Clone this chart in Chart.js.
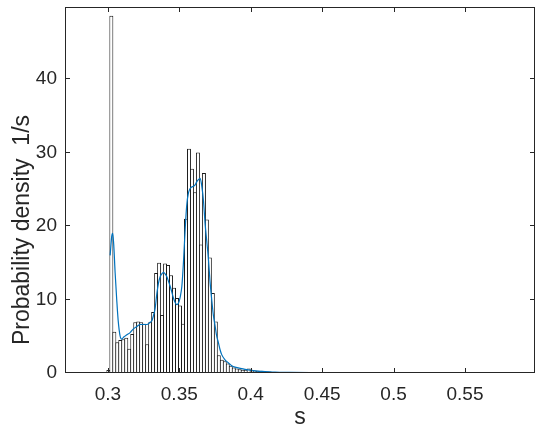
<!DOCTYPE html>
<html>
<head>
<meta charset="utf-8">
<script src="https://cdn.jsdelivr.net/npm/chart.js@4/dist/chart.umd.min.js"></script>
<style>
  html, body { margin: 0; padding: 0; background: #fff; }
  #wrap { width: 550px; height: 434px; }
</style>
</head>
<body>
<div id="wrap"><canvas id="chart" width="550" height="434"></canvas></div>
<script>
// histogram bins (pdf normalised)
const binStart = 0.2993;
const binWidth = 0.00209;
const density = [
  0.4, 48.6, 5.6, 4.2, 4.5, 4.6, 4.8, 3.3, 5.3, 6.9,
  7.0, 6.9, 6.7, 3.9, 6.9, 8.3, 13.6, 15.0, 7.9, 14.9,
  14.7, 13.3, 11.6, 10.2, 9.2, 6.7, 21.0, 30.5, 27.8, 24.6,
  30.0, 17.5, 27.2, 20.9, 15.7, 10.9, 7.0, 2.4, 1.8, 1.6,
  1.3, 1.0, 0.75, 0.6, 0.5, 0.45, 0.45, 0.6, 0.4, 0.35,
  0.3, 0.3, 0.25, 0.2, 0.2, 0.15, 0.15, 0.1, 0.1, 0.08,
  0.05, 0.05, 0, 0.05, 0, 0.04, 0, 0, 0.04, 0,
  0, 0, 0.03, 0, 0, 0, 0, 0.03, 0, 0, 0.03
];

// kernel density curve
const kdeX = [
  0.3016, 0.3027, 0.3034, 0.3041, 0.3051, 0.3062, 0.3072, 0.3086, 0.3097, 0.3111,
  0.3133, 0.3156, 0.3179, 0.3202, 0.3226, 0.3249, 0.3273, 0.3296, 0.3308, 0.3319,
  0.3331, 0.3343, 0.3354, 0.3366, 0.3378, 0.3389, 0.3401, 0.3413, 0.3424, 0.3436,
  0.3448, 0.3459, 0.3471, 0.3483, 0.3494, 0.3506, 0.3518, 0.3529, 0.3541, 0.3552,
  0.3564, 0.3576, 0.3587, 0.3599, 0.3611, 0.3622, 0.3634, 0.3646, 0.3657, 0.3669,
  0.3680, 0.3692, 0.3704, 0.3715, 0.3727, 0.3739, 0.3750, 0.3762, 0.3773, 0.3785,
  0.3797, 0.3820, 0.3843, 0.3867, 0.3890, 0.3913, 0.3960, 0.4007, 0.4051, 0.4100,
  0.4170, 0.4275, 0.4415, 0.4555, 0.4764
];
const kdeY = [
  16.0, 18.6, 19.0, 17.5, 13.6, 10.0, 7.2, 5.0, 4.6, 4.9,
  5.2, 5.5, 6.0, 6.3, 6.6, 6.6, 6.6, 6.9, 7.1, 7.8,
  8.8, 10.8, 12.2, 13.1, 13.5, 13.7, 13.5, 13.1, 12.5, 11.8,
  11.0, 10.2, 9.6, 9.3, 9.5, 10.3, 11.8, 15.0, 19.5, 22.8,
  24.5, 25.1, 25.3, 25.4, 25.6, 26.0, 26.3, 26.5, 25.5, 23.5,
  20.5, 18.0, 15.5, 12.5, 10.0, 7.8, 6.5, 5.0, 4.2, 3.2,
  2.5, 1.8, 1.4, 1.0, 0.8, 0.7, 0.5, 0.35, 0.25, 0.2,
  0.12, 0.08, 0.05, 0.04, 0.02
];

const xTicks = [0.3, 0.35, 0.4, 0.45, 0.5, 0.55];
const yTicks = [0, 10, 20, 30, 40];
const xLabel = 's';
const yLabel = 'Probability density  1/s';

const axisColor = '#262626';
const fontFamily = "'Liberation Sans', Arial, sans-serif";

const bars = density.map((v, i) => ({ x: binStart + (i + 0.5) * binWidth, y: v }));
const kde = kdeX.map((x, i) => ({ x: x, y: kdeY[i] }));

// box around the axes with inward ticks on all four sides, like matlab
const axesBox = {
  id: 'axesBox',
  afterDatasetsDraw(chart) {
    const { ctx, chartArea: a, scales: { x, y } } = chart;
    const len = 5;
    ctx.save();
    ctx.strokeStyle = axisColor;
    ctx.lineWidth = 1;
    ctx.strokeRect(a.left + 0.5, a.top + 0.5, a.width - 1, a.height - 1);
    ctx.beginPath();
    xTicks.forEach(v => {
      const px = Math.round(x.getPixelForValue(v)) + 0.5;
      ctx.moveTo(px, a.bottom); ctx.lineTo(px, a.bottom - len);
      ctx.moveTo(px, a.top); ctx.lineTo(px, a.top + len);
    });
    yTicks.forEach(v => {
      const py = Math.round(y.getPixelForValue(v)) - 0.5;
      ctx.moveTo(a.left, py); ctx.lineTo(a.left + len, py);
      ctx.moveTo(a.right, py); ctx.lineTo(a.right - len, py);
    });
    ctx.stroke();
    ctx.restore();
  },
  afterDraw(chart) {
    const ctx = chart.ctx;
    ctx.save();
    ctx.fillStyle = axisColor;
    ctx.font = '23px ' + fontFamily;
    ctx.textAlign = 'center';
    ctx.textBaseline = 'middle';
    ctx.translate(23, 230);
    ctx.rotate(-Math.PI / 2);
    ctx.fillText(yLabel, 0, 0);
    ctx.restore();
  }
};

const noPad = s => { s.paddingTop = 0; s.paddingBottom = 0; s.paddingLeft = 0; s.paddingRight = 0; };

new Chart(document.getElementById('chart'), {
  data: {
    datasets: [
      {
        type: 'line',
        data: kde,
        borderColor: '#0072BD',
        borderWidth: 1.2,
        pointRadius: 0,
        fill: false,
        cubicInterpolationMode: 'monotone',
        order: 0
      },
      {
        type: 'bar',
        data: bars,
        backgroundColor: '#ffffff',
        borderColor: '#1a1a1a',
        borderWidth: 1,
        borderSkipped: 'bottom',
        barPercentage: 1.33,
        categoryPercentage: 1,
        order: 1
      }
    ]
  },
  options: {
    responsive: false,
    animation: false,
    events: [],
    layout: { padding: { top: 7, right: 15, left: 0, bottom: 0 } },
    plugins: { legend: { display: false }, tooltip: { enabled: false } },
    scales: {
      x: {
        type: 'linear',
        min: 0.27,
        max: 0.599,
        offset: false,
        grid: { display: false, drawTicks: false },
        border: { display: false },
        ticks: {
          padding: 10,
          color: axisColor,
          font: { size: 19, family: fontFamily },
          maxRotation: 0,
          callback: v => String(v)
        },
        title: {
          display: true,
          text: xLabel,
          color: axisColor,
          font: { size: 23, family: fontFamily },
          padding: { top: 0, bottom: 3 }
        },
        afterBuildTicks: s => { s.ticks = xTicks.map(v => ({ value: v })); },
        afterFit: s => { s.height = 61; noPad(s); }
      },
      y: {
        type: 'linear',
        min: 0,
        max: 49.8,
        grid: { display: false, drawTicks: false },
        border: { display: false },
        ticks: {
          padding: 8,
          color: axisColor,
          font: { size: 19, family: fontFamily }
        },
        afterBuildTicks: s => { s.ticks = yTicks.map(v => ({ value: v })); },
        afterFit: s => { s.width = 65; noPad(s); }
      }
    }
  },
  plugins: [axesBox]
});
</script>
</body>
</html>
